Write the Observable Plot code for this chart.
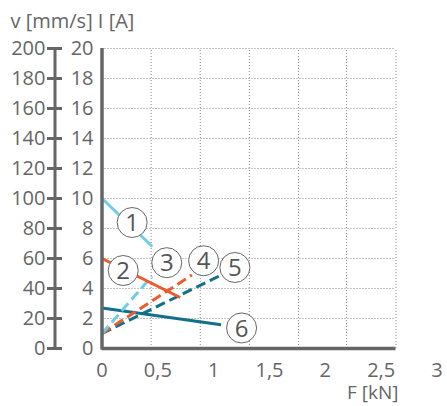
<!DOCTYPE html>
<html>
<head>
<meta charset="utf-8">
<script src="https://cdn.jsdelivr.net/npm/d3@7"></script>
<script src="https://cdn.jsdelivr.net/npm/@observablehq/plot@0.6"></script>
<style>
  html, body { margin: 0; padding: 0; background: #fff; }
  svg { font-family: "Open Sans", sans-serif; }
</style>
</head>
<body>
<div id="chart"></div>
<script>
// ---- data ----
const yTicks = [0, 2, 4, 6, 8, 10, 12, 14, 16, 18, 20];        // I [A]
const vFactor = 10;                                              // v [mm/s] = I * 10 on left axis
const xTicks = [0, 0.5, 1, 1.5, 2, 2.5, 3];                      // F [kN] labels
const gridX = [0.44, 0.88, 1.32, 1.76, 2.19, 2.633];             // vertical dotted grid
const gridRight = 2.633;

const lineIds   = ["1", "2", "3", "4", "5", "6"];
const lineF0    = [0, 0, 0, 0, 0, 0];
const lineI0    = [10, 6, 1, 1, 1, 2.7];
const lineF1    = [0.45, 0.70, 0.447, 0.805, 1.06, 1.066];
const lineI1    = [6.8, 3.4, 4.82, 4.9, 4.87, 1.58];
const lineColor = ["#6ccfe8", "#f0592a", "#6ccfe8", "#f0592a", "#12708a", "#12708a"];
const lineDash  = [false, false, true, true, true, false];

const labelIds = ["1", "2", "3", "4", "5", "6"];
const labelF   = [0.27, 0.19, 0.58, 0.91, 1.19, 1.25];
const labelI   = [8.4, 5.2, 5.72, 5.85, 5.4, 1.37];

// ---- build ----
const segs = lineIds.map((id, i) => ({
  id, x1: lineF0[i], y1: lineI0[i], x2: lineF1[i], y2: lineI1[i],
  color: lineColor[i], dash: lineDash[i]
}));
const drawOrder = [5, 4, 3, 2, 1, 0].map(i => segs[i]);
const labels = labelIds.map((id, i) => ({ id, x: labelF[i], y: labelI[i] }));
const comma = d => String(d).replace(".", ",");
const gray = "#666";

const marks = [
  // dotted grid
  Plot.ruleY(yTicks.filter(d => d > 0), { x1: 0, x2: gridRight, stroke: "#8a8a8a", strokeWidth: 1, strokeDasharray: "1,2" }),
  Plot.ruleX(gridX, { y1: 0, y2: 20, stroke: "#8a8a8a", strokeWidth: 1, strokeDasharray: "1,2" }),
  // lines
  ...drawOrder.map(s => Plot.link([s], {
    x1: "x1", y1: "y1", x2: "x2", y2: "y2",
    stroke: s.color, strokeWidth: 3,
    strokeDasharray: s.dash ? "10,5" : null
  })),
  // label circles
  Plot.dot(labels, { x: "x", y: "y", r: 15, fill: "white", stroke: gray, strokeWidth: 1 }),
  Plot.text(labels, { x: "x", y: "y", text: "id", fontSize: 24, fill: "#555", dy: 1 }),
  // main axes (I axis, F axis)
  Plot.ruleY([0], { x1: 0, x2: gridRight, stroke: gray, strokeWidth: 3.5 }),
  Plot.ruleX([0], { y1: -0.1, y2: 20, stroke: gray, strokeWidth: 3.5 }),
  // I axis labels
  Plot.axisY(yTicks, { anchor: "left", tickSize: 0, tickPadding: 8, fontSize: 20, fill: gray, tickFormat: d => d }),
  // v axis
  Plot.ruleX([0], { y1: 0, y2: 20, dx: -47, stroke: gray, strokeWidth: 3 }),
  Plot.axisY(yTicks, { anchor: "left", tickSize: 15, tickPadding: 2, dx: -39, stroke: gray, strokeWidth: 3,
    fontSize: 20, fill: gray, tickFormat: d => d * vFactor }),
  // x axis labels
  Plot.text(xTicks, { x: d => d, y: 0, dy: 22, text: comma, fontSize: 20, fill: gray }),
  Plot.text(["F [kN]"], { frameAnchor: "bottom-right", dx: 2, dy: 44, textAnchor: "end", lineAnchor: "middle", fontSize: 19, fill: gray }),
  Plot.text(["v [mm/s] I [A]"], { frameAnchor: "top-left", dx: -91, dy: -27, textAnchor: "start", lineAnchor: "middle", fontSize: 20, fill: gray })
];

const chart = Plot.plot({
  width: 447,
  height: 406,
  marginLeft: 101,
  marginRight: 51,
  marginTop: 48,
  marginBottom: 58,
  x: { domain: [0, 3], range: [101.5, 436.5], axis: null },
  y: { domain: [0, 20], axis: null },
  style: { fontFamily: "Open Sans, sans-serif", background: "white" },
  marks
});
document.getElementById("chart").appendChild(chart);
</script>
</body>
</html>
